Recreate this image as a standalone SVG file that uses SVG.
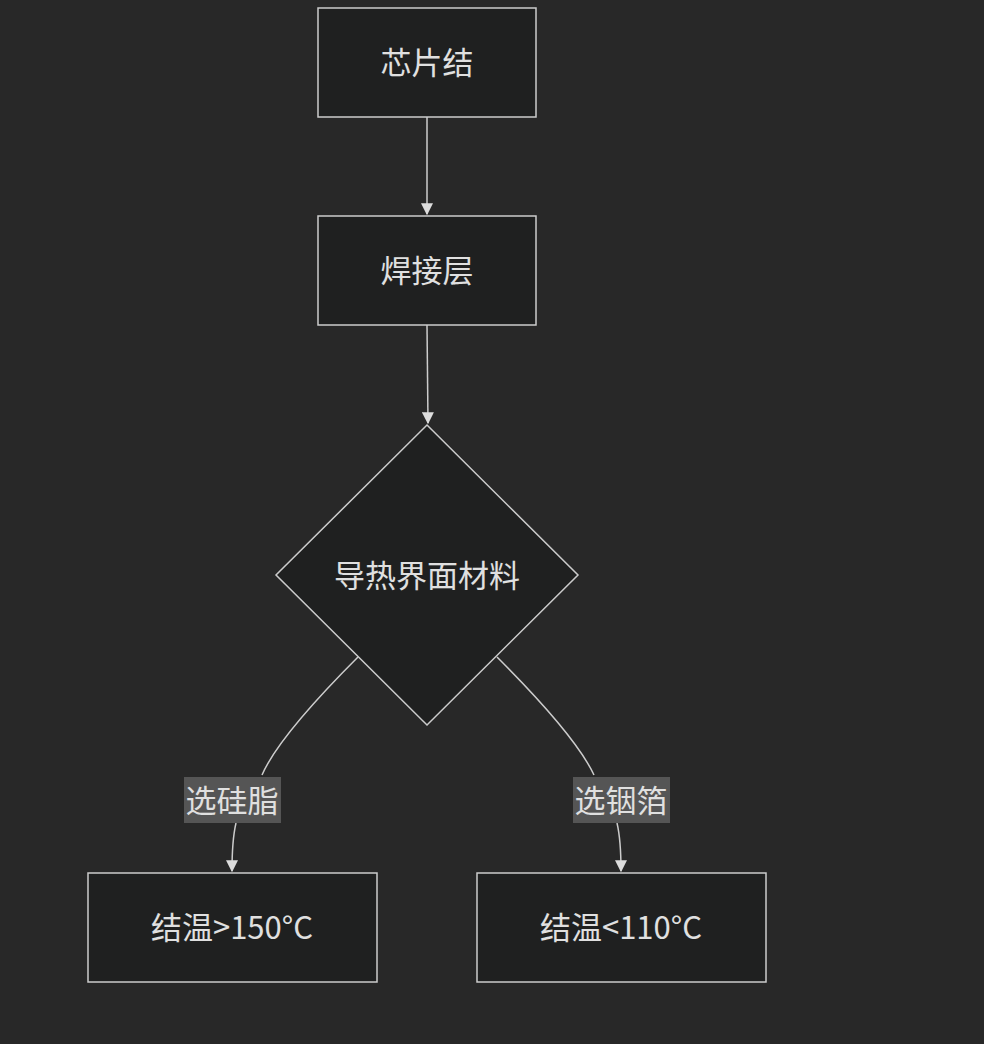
<svg xmlns="http://www.w3.org/2000/svg" width="984" height="1044" viewBox="0 0 984 1044">
<style>
.n{fill:#1f2020;stroke:#cccccc;stroke-width:1.5}
.t{fill:#e0e0e0;font-family:"Noto Sans CJK SC","Liberation Sans",sans-serif;font-size:31px;text-anchor:middle;dominant-baseline:central}
.e{fill:none;stroke:#cccccc;stroke-width:1.5}
.lb{fill:#555555}
</style>
<defs><marker id="a" viewBox="0 0 10 10" refX="9" refY="5" markerWidth="8" markerHeight="8" orient="auto"><path d="M0,0L10,5L0,10z" fill="#dddddd"/></marker></defs>
<rect width="984" height="1044" fill="#282828"/>
<g id="edges">
<path class="e" d="M427,117V214" marker-end="url(#a)"/>
<path class="e" d="M427,325L428,423" marker-end="url(#a)"/>
<path class="e" d="M358,657C310,705 275,745 262,775"/>
<path class="e" d="M236,823C232,840 232,855 232,871" marker-end="url(#a)"/>
<path class="e" d="M497,657C545,705 580,745 594,775"/>
<path class="e" d="M617,823C621,840 621,855 621,871" marker-end="url(#a)"/>
<rect class="lb" x="184" y="777" width="97" height="46"/>
<text class="t" x="232" y="798">选硅脂</text>
<rect class="lb" x="573" y="777" width="97" height="46"/>
<text class="t" x="621" y="798">选铟箔</text>
</g>
<g id="n1"><rect class="n" x="318" y="8" width="218" height="109"/><text class="t" x="427" y="60">芯片结</text></g>
<g id="n2"><rect class="n" x="318" y="216" width="218" height="109"/><text class="t" x="427" y="268">焊接层</text></g>
<g id="n3"><polygon class="n" points="427,425 578,575 427,725 276,575"/><text class="t" x="427" y="573">导热界面材料</text></g>
<g id="n4"><rect class="n" x="88" y="873" width="289" height="109"/><text class="t" x="232" y="925">结温&gt;150°C</text></g>
<g id="n5"><rect class="n" x="477" y="873" width="289" height="109"/><text class="t" x="621" y="925">结温&lt;110°C</text></g>
</svg>
